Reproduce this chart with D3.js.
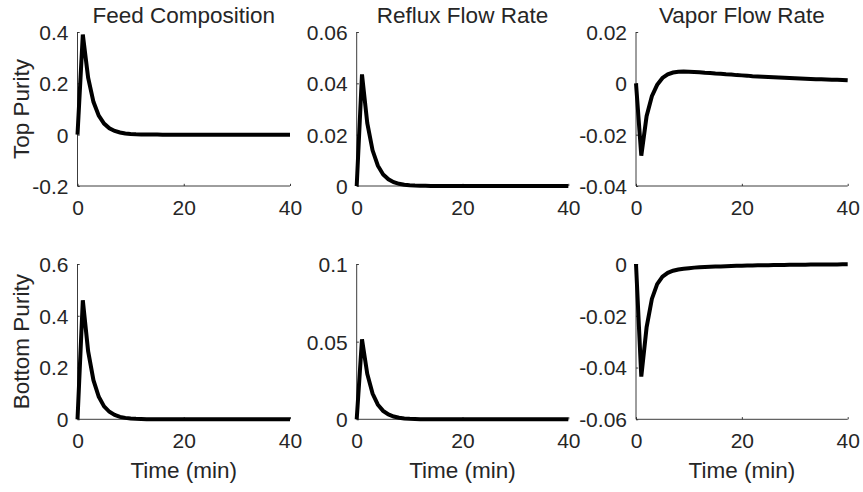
<!DOCTYPE html>
<html>
<head>
<meta charset="utf-8">
<script src="https://cdn.jsdelivr.net/npm/d3@7/dist/d3.min.js"></script>
<style>
  html, body { margin: 0; padding: 0; background: #fff; }
  svg { display: block; }
  text { font-family: "Liberation Sans", Arial, Helvetica, sans-serif; fill: #262626; }
</style>
</head>
<body>
<svg id="chart" width="863" height="492"></svg>
<script>
// Sample times (min)
const minutes = [0,1,2,3,4,5,6,7,8,9,10,11,12,13,14,15,16,17,18,19,20,
                 21,22,23,24,25,26,27,28,29,30,31,32,33,34,35,36,37,38,39,40];

// Column titles (disturbance inputs) and row labels (outputs)
const inputNames = ["Feed Composition", "Reflux Flow Rate", "Vapor Flow Rate"];
const outputNames = ["Top Purity", "Bottom Purity"];
const xTicks = [0, 20, 40];

// Step responses, one array per output / input pair
const topFeed = [0, 0.39, 0.222, 0.128, 0.074, 0.043, 0.025, 0.0145, 0.0084, 0.0049, 0.0028,
  0.0016, 0.0009, 0.0005, 0.0003, 0.0002, 0.0001, 0.0001, 0, 0, 0,
  0, 0, 0, 0, 0, 0, 0, 0, 0, 0, 0, 0, 0, 0, 0, 0, 0, 0, 0, 0];
const topReflux = [0, 0.0435, 0.0245, 0.0139, 0.0079, 0.0045, 0.0026, 0.0015, 0.00085, 0.00048, 0.00027,
  0.00015, 0.00009, 0.00005, 0.00003, 0.00002, 0.00001, 0, 0, 0, 0,
  0, 0, 0, 0, 0, 0, 0, 0, 0, 0, 0, 0, 0, 0, 0, 0, 0, 0, 0, 0];
const topVapor = [0, -0.0282, -0.0128, -0.005, -0.0006, 0.0021, 0.0035, 0.0042, 0.0045, 0.0046, 0.0045,
  0.0044, 0.0043, 0.0041, 0.004, 0.0038, 0.0037, 0.0035, 0.0034, 0.0032, 0.0031,
  0.003, 0.0028, 0.0027, 0.0026, 0.0025, 0.0024, 0.0023, 0.0022, 0.0021, 0.002,
  0.0019, 0.0018, 0.0017, 0.0016, 0.0016, 0.0015, 0.0014, 0.0014, 0.0013, 0.0012];
const bottomFeed = [0, 0.46, 0.263, 0.151, 0.087, 0.05, 0.029, 0.0166, 0.0095, 0.0055, 0.0032,
  0.0018, 0.001, 0.0006, 0.0003, 0.0002, 0.0001, 0.0001, 0, 0, 0,
  0, 0, 0, 0, 0, 0, 0, 0, 0, 0, 0, 0, 0, 0, 0, 0, 0, 0, 0, 0];
const bottomReflux = [0, 0.0515, 0.0292, 0.0166, 0.0094, 0.0054, 0.0031, 0.0018, 0.001, 0.00058, 0.00033,
  0.00019, 0.00011, 0.00006, 0.00003, 0.00002, 0.00001, 0, 0, 0, 0,
  0, 0, 0, 0, 0, 0, 0, 0, 0, 0, 0, 0, 0, 0, 0, 0, 0, 0, 0, 0];
const bottomVapor = [0, -0.0435, -0.0245, -0.0135, -0.0078, -0.0049, -0.0034, -0.0026, -0.0021, -0.0018, -0.0016,
  -0.0014, -0.0013, -0.0012, -0.0011, -0.001, -0.00092, -0.00085, -0.00078, -0.00072, -0.00066,
  -0.00061, -0.00056, -0.00052, -0.00048, -0.00044, -0.00041, -0.00038, -0.00035, -0.00032, -0.0003,
  -0.00027, -0.00025, -0.00023, -0.00021, -0.0002, -0.00018, -0.00017, -0.00015, -0.00014, -0.00013];

// Y-axis limits and ticks per panel
const yTicksTopFeed = [-0.2, 0, 0.2, 0.4];
const yTicksTopReflux = [0, 0.02, 0.04, 0.06];
const yTicksTopVapor = [-0.04, -0.02, 0, 0.02];
const yTicksBottomFeed = [0, 0.2, 0.4, 0.6];
const yTicksBottomReflux = [0, 0.05, 0.1];
const yTicksBottomVapor = [-0.06, -0.04, -0.02, 0];

const panels = [
  { row: 0, col: 0, values: topFeed, yTicks: yTicksTopFeed },
  { row: 0, col: 1, values: topReflux, yTicks: yTicksTopReflux },
  { row: 0, col: 2, values: topVapor, yTicks: yTicksTopVapor },
  { row: 1, col: 0, values: bottomFeed, yTicks: yTicksBottomFeed },
  { row: 1, col: 1, values: bottomReflux, yTicks: yTicksBottomReflux },
  { row: 1, col: 2, values: bottomVapor, yTicks: yTicksBottomVapor }
];

// Layout of the 2x3 grid of axes
const colX = [[77.5, 290], [356.7, 568.3], [636, 847.7]];
const rowY = [[32, 186], [264, 419.3]];
const tickFont = 21;
const labelFont = 22.5;
const ink = "#262626";

const svg = d3.select("#chart");
const fmt = v => String(v);

panels.forEach(p => {
  const [x0, x1] = colX[p.col];
  const [y0, y1] = rowY[p.row];
  const x = d3.scaleLinear().domain([0, 40]).range([x0, x1]);
  const y = d3.scaleLinear()
    .domain([p.yTicks[0], p.yTicks[p.yTicks.length - 1]])
    .range([y1, y0]);

  const g = svg.append("g");

  // Bottom axis: inward ticks, labels below
  const xa = g.append("g")
    .attr("transform", `translate(0,${y1})`)
    .call(d3.axisBottom(x).tickValues(xTicks).tickSize(-2.2).tickSizeOuter(0).tickPadding(0).tickFormat(fmt));
  xa.select(".domain").attr("stroke", ink).attr("stroke-width", 0.9).attr("d", `M${x0},0H${x1}`);
  xa.selectAll(".tick line").attr("stroke", ink).attr("stroke-width", 0.9);
  xa.selectAll(".tick text")
    .attr("y", 29).attr("dy", 0)
    .style("font-size", tickFont + "px")
    .attr("fill", ink);

  // Left axis: inward ticks, labels to the left
  const ya = g.append("g")
    .attr("transform", `translate(${x0},0)`)
    .call(d3.axisLeft(y).tickValues(p.yTicks).tickSize(-2.2).tickSizeOuter(0).tickPadding(0).tickFormat(fmt));
  ya.select(".domain").attr("stroke", ink).attr("stroke-width", 0.9).attr("d", `M0,${y1}V${y0}`);
  ya.selectAll(".tick line").attr("stroke", ink).attr("stroke-width", 0.9);
  ya.selectAll(".tick text")
    .attr("x", -9).attr("dy", "0.35em")
    .style("font-size", tickFont + "px")
    .attr("fill", ink);

  // Response curve
  const line = d3.line()
    .x((d, i) => x(minutes[i]))
    .y(d => y(d));
  g.append("path")
    .datum(p.values)
    .attr("d", line)
    .attr("fill", "none")
    .attr("stroke", "#000")
    .attr("stroke-width", 4)
    .attr("stroke-linejoin", "miter")
    .attr("stroke-linecap", "butt");

  // Column titles on the top row
  if (p.row === 0) {
    g.append("text")
      .attr("x", (x0 + x1) / 2)
      .attr("y", y0 - 9.5)
      .attr("text-anchor", "middle")
      .style("font-size", labelFont + "px")
      .text(inputNames[p.col]);
  }
  // Row labels on the first column
  if (p.col === 0) {
    g.append("text")
      .attr("transform", `translate(29,${(y0 + y1) / 2}) rotate(-90)`)
      .attr("text-anchor", "middle")
      .style("font-size", labelFont + "px")
      .text(outputNames[p.row]);
  }
  // Time label under the bottom row
  if (p.row === 1) {
    g.append("text")
      .attr("x", (x0 + x1) / 2)
      .attr("y", 478)
      .attr("text-anchor", "middle")
      .style("font-size", labelFont + "px")
      .text("Time (min)");
  }
});
</script>
</body>
</html>
